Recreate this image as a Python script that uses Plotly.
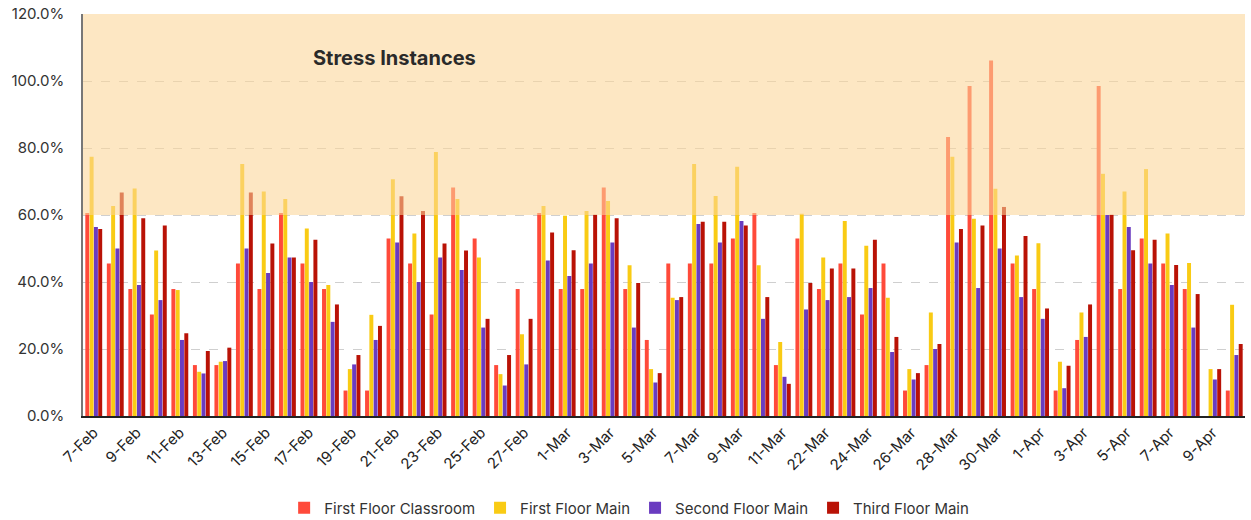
import plotly.graph_objects as go

dates = [
    '7-Feb', '8-Feb', '9-Feb', '10-Feb', '11-Feb', '12-Feb', '13-Feb', '14-Feb',
    '15-Feb', '16-Feb', '17-Feb', '18-Feb', '19-Feb', '20-Feb', '21-Feb', '22-Feb',
    '23-Feb', '24-Feb', '25-Feb', '26-Feb', '27-Feb', '28-Feb',
    '1-Mar', '2-Mar', '3-Mar', '4-Mar', '5-Mar', '6-Mar', '7-Mar', '8-Mar',
    '9-Mar', '10-Mar', '11-Mar', '12-Mar',
    '22-Mar', '23-Mar', '24-Mar', '25-Mar', '26-Mar', '27-Mar', '28-Mar', '29-Mar',
    '30-Mar', '31-Mar',
    '1-Apr', '2-Apr', '3-Apr', '4-Apr', '5-Apr', '6-Apr', '7-Apr', '8-Apr',
    '9-Apr', '10-Apr',
]

# percent values
first_floor_classroom = [
    60.6, 45.5, 37.9, 30.3, 37.9, 15.2, 15.2, 45.5, 37.9, 60.6, 45.5, 37.9, 7.6, 7.6,
    53.0, 45.5, 30.3, 68.2, 53.0, 15.2, 37.9, 60.6,
    37.9, 37.9, 68.2, 37.9, 22.7, 45.5, 45.5, 45.5, 53.0, 60.6, 15.2, 53.0,
    37.9, 45.5, 30.3, 45.5, 7.6, 15.2, 83.3, 98.5, 106.1, 45.5,
    37.9, 7.6, 22.7, 98.5, 37.9, 53.0, 45.5, 37.9, 0, 7.6,
]
first_floor_main = [
    77.4, 62.7, 67.9, 49.4, 37.6, 13.2, 16.2, 75.2, 67.0, 64.8, 56.0, 39.1, 14.0, 30.2,
    70.7, 54.5, 78.8, 64.8, 47.3, 12.5, 24.4, 62.7,
    59.8, 61.2, 64.2, 45.0, 14.0, 35.3, 75.2, 65.7, 74.4, 45.0, 22.1, 60.4,
    47.3, 58.2, 50.8, 35.3, 14.0, 30.9, 77.4, 58.9, 67.8, 47.9,
    51.6, 16.2, 30.9, 72.3, 67.0, 73.7, 54.5, 45.7, 14.0, 33.2,
]
second_floor_main = [
    56.4, 50.0, 39.1, 34.6, 22.7, 12.7, 16.4, 50.0, 42.7, 47.3, 40.0, 28.1, 15.4, 22.7,
    51.8, 40.0, 47.3, 43.6, 26.4, 9.1, 15.4, 46.4,
    41.8, 45.5, 51.8, 26.4, 10.0, 34.6, 57.3, 51.8, 58.2, 29.0, 11.7, 31.8,
    34.6, 35.5, 38.2, 19.1, 10.9, 20.0, 51.8, 38.2, 50.0, 35.5,
    29.0, 8.3, 23.6, 60.0, 56.4, 45.5, 39.1, 26.4, 10.9, 18.2,
]
third_floor_main = [
    55.8, 66.7, 59.0, 56.9, 24.7, 19.4, 20.4, 66.7, 51.5, 47.3, 52.6, 33.3, 18.2, 26.9,
    65.6, 61.2, 51.5, 49.4, 29.0, 18.2, 29.0, 54.8,
    49.5, 60.1, 59.0, 39.7, 12.8, 35.5, 58.0, 58.0, 56.9, 35.5, 9.6, 39.7,
    44.0, 44.0, 52.6, 23.6, 12.8, 21.5, 55.8, 56.9, 62.4, 53.7,
    32.1, 15.0, 33.3, 60.1, 49.5, 52.6, 45.1, 36.4, 14.0, 21.5,
]

series = [
    ('First Floor Classroom', first_floor_classroom, '#FF4A3A'),
    ('First Floor Main', first_floor_main, '#F9CB14'),
    ('Second Floor Main', second_floor_main, '#6A3CC0'),
    ('Third Floor Main', third_floor_main, '#B91206'),
]

font_family = 'Inter, Lato, sans-serif'

fig = go.Figure()
for name, vals, color in series:
    fig.add_bar(x=dates, y=[v / 100 for v in vals], name=name,
                marker=dict(color=color, line=dict(width=0)))

# stress zone drawn over the bars, semi transparent
fig.add_shape(type='rect', xref='paper', x0=0, x1=1, yref='y', y0=0.6, y1=1.2,
              fillcolor='rgba(251, 214, 152, 0.58)', line=dict(width=0), layer='above')

fig.add_annotation(text='<b>Stress Instances</b>', xref='paper', x=0.268, xanchor='center',
                   yref='y', y=1.07, yanchor='middle', showarrow=False,
                   font=dict(size=20, color='#2a2a2a', family=font_family))

fig.update_layout(
    width=1251, height=520,
    margin=dict(l=83, r=6, t=14, b=104, autoexpand=False),
    plot_bgcolor='white', paper_bgcolor='white',
    barmode='group', bargap=0.2, bargroupgap=0.08,
    font=dict(family=font_family, color='#333333'),
    legend=dict(orientation='h', xanchor='center', x=0.47, yanchor='middle', y=-0.229,
                font=dict(size=15, color='#333333'), itemwidth=30, traceorder='normal'),
    showlegend=True,
)
fig.update_xaxes(
    type='category', tickvals=dates[::2], ticktext=dates[::2], tickangle=-45,
    tickfont=dict(size=15, color='#222222'), showgrid=False, automargin=False,
    showline=True, linecolor='#222222', linewidth=2, ticks='',
)
fig.update_yaxes(
    range=[0, 1.2], dtick=0.2, tickformat='.1%', automargin=False,
    tickfont=dict(size=15, color='#333333'), ticklabelstandoff=14,
    showgrid=True, gridcolor='#cfcfcf', griddash='dash', gridwidth=1,
    showline=True, linecolor='#777777', linewidth=1.5, zeroline=False,
)

# drop the default page margin so the figure fills the window exactly
fig.write_html('out.html', config={'displayModeBar': False},
               post_script="document.body.style.margin = '0';")
